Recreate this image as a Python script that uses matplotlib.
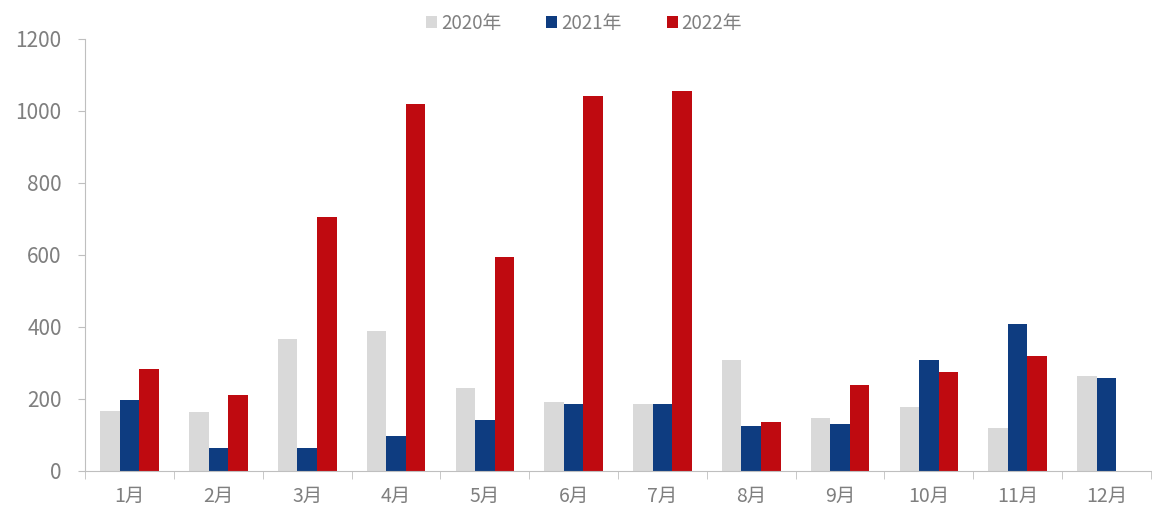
import numpy as np
import matplotlib.pyplot as plt

plt.rcParams['font.family'] = ['Noto Sans CJK SC', 'DejaVu Sans']

months = ["1月", "2月", "3月", "4月", "5月", "6月", "7月", "8月", "9月", "10月", "11月", "12月"]
y2020 = [167, 165, 367, 389, 231, 192, 186, 308, 147, 178, 119, 264]
y2021 = [197, 64, 64, 97, 142, 186, 186, 125, 131, 308, 408, 258]
y2022 = [283, 211, 705, 1019, 594, 1042, 1055, 136, 239, 275, 319, np.nan]
series = ["2020年", "2021年", "2022年"]
colors = ["#d9d9d9", "#0e3c80", "#bf0a10"]

fig = plt.figure(figsize=(11.52, 5.13), dpi=100)
ax = fig.add_axes([0.074, 0.082, 0.925, 0.842])

x = np.arange(len(months))
w = 0.22
for i, (vals, c, lab) in enumerate(zip([y2020, y2021, y2022], colors, series)):
    ax.bar(x + (i - 1) * w, vals, width=w, color=c, label=lab)

ax.set_xlim(-0.5, len(months) - 0.5)
ax.set_ylim(0, 1200)
ax.set_yticks(np.arange(0, 1201, 200))

grey = "#7f7f7f"
for s in ["top", "right"]:
    ax.spines[s].set_visible(False)
ax.spines["left"].set_color("#bfbfbf")
ax.spines["bottom"].set_color("#bfbfbf")

ax.set_xticks(x)
ax.set_xticklabels(months)
ax.set_xticks(np.arange(-0.5, len(months), 1), minor=True)
ax.tick_params(axis="x", which="major", length=0, pad=11, labelsize=14, labelcolor=grey)
ax.tick_params(axis="x", which="minor", length=6, color="#bfbfbf", direction="out")
ax.tick_params(axis="y", length=5, color="#bfbfbf", pad=12, labelsize=15, labelcolor=grey)

leg = ax.legend(loc="upper center", bbox_to_anchor=(0.468, 1.10), ncol=3, frameon=False,
                handlelength=0.6, handleheight=0.6, handletextpad=0.2, columnspacing=2.4,
                fontsize=13.5)
for t in leg.get_texts():
    t.set_color(grey)

fig.savefig("out.png", dpi=100)
